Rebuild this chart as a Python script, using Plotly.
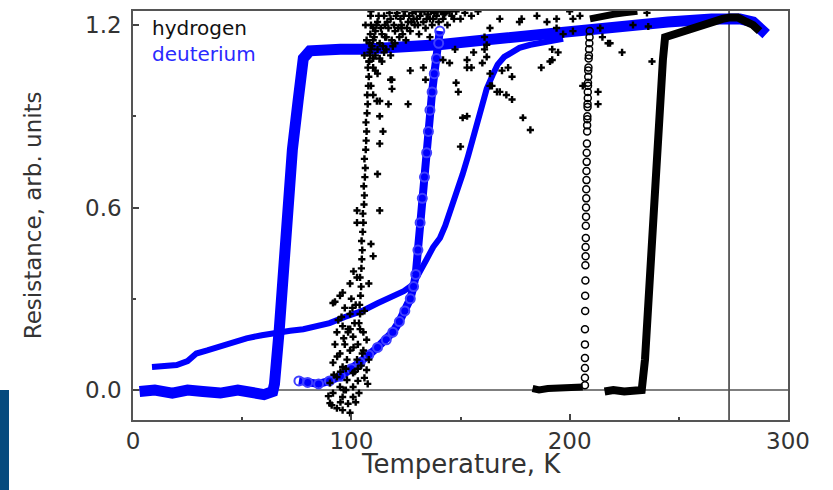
import plotly.graph_objects as go

# ---------------- data ----------------
# deuterium, run A (thick band, sharp transition ~66 K)
dA_T = [3, 10, 18, 25, 32, 40, 48, 55, 60, 64, 64.8, 67, 69, 70.7, 73, 75.6, 78, 81, 87, 95,
        105, 120, 140, 160, 180, 196, 220, 245, 265, 278, 284, 288, 290]
dA_R = [-0.005, 0.0, -0.01, 0.0, -0.005, -0.01, 0.0, -0.01, -0.015, -0.005, 0.02, 0.2, 0.42, 0.62, 0.79, 0.95, 1.09, 1.115, 1.12, 1.12,
        1.12, 1.125, 1.135, 1.15, 1.165, 1.18, 1.195, 1.21, 1.22, 1.22, 1.21, 1.19, 1.17]

# deuterium, run B (thin curve)
dB_T = [8.7, 14, 20, 25, 29, 34, 38.5, 45, 52, 59, 66, 72, 78, 84, 90, 97, 105, 112, 119, 124,
        128, 131, 134.5, 137.5, 140.6, 143, 145, 147, 149, 151, 153.5, 156, 159, 162, 165, 167, 170, 173, 177, 182,
        190, 197]
dB_R = [0.076, 0.078, 0.082, 0.095, 0.12, 0.13, 0.14, 0.155, 0.17, 0.18, 0.19, 0.195, 0.20, 0.21, 0.22, 0.24, 0.26, 0.285, 0.31, 0.325,
        0.345, 0.38, 0.43, 0.47, 0.50, 0.54, 0.58, 0.62, 0.66, 0.71, 0.77, 0.84, 0.92, 0.99, 1.04, 1.07, 1.095, 1.11, 1.125, 1.135,
        1.145, 1.155]

# deuterium, run C (open circles)
dC_T = [76, 80, 85, 90, 95, 100, 104, 108, 112, 116, 119, 122, 124.5, 127, 128.5, 129.5, 130.5, 131.5, 132.5, 133.5,
        134.5, 135.3, 136, 137, 138, 139, 140, 140.5]
dC_R = [0.03, 0.025, 0.02, 0.03, 0.045, 0.07, 0.09, 0.115, 0.14, 0.165, 0.19, 0.225, 0.26, 0.30, 0.34, 0.38, 0.46, 0.55, 0.63, 0.70,
        0.78, 0.85, 0.92, 0.98, 1.04, 1.09, 1.14, 1.18]

# hydrogen, open-circle run (transition ~207 K)
hO_flat_T = [183, 186, 190, 195, 200, 204, 206]
hO_flat_R = [0.005, 0.0, 0.005, 0.005, 0.007, 0.008, 0.01]
hO_col_T = [207, 207, 207, 207, 207, 207, 207.1, 207.1, 207.2, 207.2, 207.3, 207.3, 207.4, 207.4, 207.5, 207.5,
            207.6, 207.6, 207.7, 207.7, 207.8, 207.8, 207.9, 208, 208, 208.1, 208.1, 208.2, 208.2, 208.3, 208.3,
            208.4, 208.4, 208.5, 208.5, 208.6, 208.7, 208.8, 208.9, 209, 209.1, 209.2]
hO_col_R = [0.016, 0.04, 0.072, 0.105, 0.15, 0.20, 0.26, 0.31, 0.36, 0.41, 0.44, 0.47, 0.50, 0.54, 0.57, 0.60,
            0.63, 0.66, 0.69, 0.72, 0.75, 0.78, 0.81, 0.85, 0.87, 0.89, 0.90, 0.93, 0.94, 0.96, 0.98,
            1.0, 1.01, 1.03, 1.05, 1.06, 1.09, 1.10, 1.12, 1.14, 1.16, 1.18]
hO_top_T = [209.3, 215, 220, 225, 231]
hO_top_R = [1.22, 1.23, 1.235, 1.24, 1.245]

# hydrogen, thick run (transition ~235 K)
hT_T = [216, 220, 225, 230, 233, 234.5, 235.5, 237.7, 239, 240.5, 242.7, 243.7, 250, 257, 264, 270, 273.5, 277, 281, 284, 287]
hT_R = [-0.005, 0.0, -0.005, 0.0, 0.0, 0.1, 0.23, 0.46, 0.625, 0.855, 1.085, 1.16, 1.175, 1.19, 1.21, 1.22, 1.225, 1.225, 1.21, 1.2, 1.18]

# hydrogen, noisy run (crosses)
hX_T = [103.5, 104, 103.8, 104.2, 104.5, 104, 104.6, 104.8, 105, 104.7, 105.2, 105.5, 105.3, 105.8, 106, 105.7, 106.2, 106.4,
        106, 106.6, 106.8, 107, 106.7, 107.2, 107.5, 107.3, 107.8, 108, 107.6, 108.2, 108.5, 108.3, 108.7, 109, 108.8, 109,
        102.6, 113, 102.6, 101, 96, 92.5, 112, 113, 114.5, 117, 118, 113, 111.7, 108, 109, 110,
        91.6, 94.8, 99.4, 102.6, 99.4, 96, 93.4, 100.8, 104, 107, 105.5, 99.4, 94.8, 91.6, 96, 102.6, 107, 100.8, 93.4, 98,
        90.2, 94.8, 100.8, 91.6, 96, 90.2, 93.4, 96, 100.8, 99.4,
        97, 98.5, 101.5, 103, 104.5, 106, 103, 97.5, 95, 92, 98, 102, 100, 97, 94, 106, 103.5, 105, 101, 96.5, 92.5, 89.5,
        91, 95, 98.5, 102, 108, 107.5,
        109, 110, 111, 112, 113, 114, 115, 116, 117, 118, 119, 120, 121, 122, 123, 124, 125, 126, 127, 128, 129, 130, 131,
        132, 133, 134, 135, 136, 137, 138, 139, 140, 141, 142, 143, 144, 146, 148, 150, 152, 155, 158,
        108, 110, 111, 113, 115, 112, 109, 110,
        110, 115.4, 123, 127, 126, 118.6, 118.6, 113, 133, 134, 136, 142, 145, 148, 149, 151, 153, 150, 156, 160, 162, 163.5,
        166.7, 168, 169, 173.6, 173.6, 178.6, 182, 178, 185, 194, 200, 192, 194.7, 191, 187, 192, 177, 168, 161, 163.5,
        147.5, 153, 153, 155, 161, 162, 163.5, 164.4, 171, 171.8, 197, 201.5, 194, 189.6, 201.5, 204.7, 206, 213, 213,
        217.6, 224, 237.7, 214, 229, 235.4, 218.5, 215, 236,
        108.5, 109.5, 110.5, 111.5, 112.5, 113.5, 114.5, 115.5, 116.5, 117.5, 118.5, 119.5, 120.5, 121.5, 122.5, 123.5,
        124.5, 125.5, 126.5, 127.5, 128.5, 129.5, 130.5, 131.5, 133.5, 134.5, 136.5, 137.5, 139.5, 142.5, 145, 147,
        110, 111, 112, 114, 116, 118, 120, 106, 107, 106.5,
        95.5, 97.5, 99.5, 101.5, 93.5, 105.5, 103, 98.5, 96.5, 100.5]
hX_R = [0.22, 0.25, 0.28, 0.31, 0.34, 0.37, 0.40, 0.43, 0.46, 0.49, 0.52, 0.55, 0.58, 0.61, 0.64, 0.67, 0.70, 0.73,
        0.76, 0.79, 0.82, 0.85, 0.88, 0.91, 0.94, 0.97, 1.0, 1.03, 1.06, 1.08, 1.11, 1.14, 1.17, 1.2, 1.23, 1.245,
        0.59, 0.59, 0.55, 0.39, 0.32, 0.29, 0.71, 0.81, 0.85, 0.94, 1.02, 0.9, 0.95, 0.35, 0.48, 0.44,
        0.286, 0.31, 0.35, 0.37, 0.25, 0.21, 0.19, 0.175, 0.2, 0.165, 0.13, 0.13, 0.12, 0.09, 0.076, 0.1, 0.066, 0.056, 0.043, 0.033,
        0.023, 0.01, 0.01, -0.01, -0.023, -0.043, -0.06, -0.066, -0.023, -0.075,
        0.15, 0.19, 0.22, 0.15, 0.08, 0.04, 0.03, 0.0, 0.06, 0.05, 0.1, 0.28, 0.3, 0.27, 0.23, 0.26, -0.01, 0.12, 0.14, 0.17, 0.15, -0.02,
        -0.05, -0.04, -0.045, -0.04, 0.1, 0.02,
        1.12, 1.15, 1.18, 1.21, 1.14, 1.17, 1.23, 1.16, 1.19, 1.22, 1.13, 1.18, 1.24, 1.16, 1.2, 1.23, 1.15, 1.21, 1.18, 1.24, 1.2, 1.22, 1.17,
        1.245, 1.21, 1.19, 1.235, 1.22, 1.2, 1.24, 1.23, 1.21, 1.245, 1.22, 1.24, 1.2, 1.23, 1.245, 1.22, 1.24, 1.23, 1.245,
        1.08, 1.06, 1.1, 1.09, 1.11, 1.04, 1.0, 0.97,
        1.19, 1.2, 1.19, 1.05, 0.94, 0.99, 1.02, 0.95, 1.06, 1.02, 1.16, 1.085, 1.075, 1.01, 0.98, 0.895, 0.9, 0.8, 1.11, 1.075, 1.135, 1.0,
        0.98, 0.98, 1.05, 1.03, 0.955, 0.895, 0.855, 1.22, 1.23, 1.22, 1.245, 1.12, 1.11, 1.08, 1.06, 1.085, 1.21, 1.22, 1.16, 1.19,
        1.12, 1.085, 1.06, 1.06, 1.12, 1.095, 1.04, 1.0, 0.97, 1.06, 1.17, 1.18, 1.19, 1.21, 1.22, 1.23, 1.0, 0.98, 0.94,
        1.14, 1.11, 1.08, 1.19, 1.2, 1.24, 1.14, 1.16, 1.195,
        1.1, 1.13, 1.16, 1.2, 1.23, 1.19, 1.13, 1.16, 1.21, 1.24, 1.15, 1.2, 1.23, 1.19, 1.22, 1.17,
        1.245, 1.19, 1.23, 1.21, 1.22, 1.245, 1.2, 1.23, 1.245, 1.22, 1.245, 1.22, 1.245, 1.235, 1.245, 1.22,
        1.09, 1.05, 1.12, 1.08, 1.12, 1.1, 1.14, 1.1, 1.15, 1.2,
        0.24, 0.07, 0.2, 0.06, 0.11, 0.19, 0.07, 0.2, 0.0, 0.27]

x_ticks = [0, 100, 200, 300]
x_minor = [50, 150, 250]
y_ticks = [0.0, 0.6, 1.2]
y_ticktext = ["0.0", "0.6", "1.2"]
y_minor = [0.3, 0.9]
marker_T = 273
x_range = [0, 300]
y_range = [-0.0986, 1.246]

BLUE = "#0000ff"
BLACK = "#000000"

fig = go.Figure()

fig.add_trace(go.Scatter(x=dA_T, y=dA_R, mode="lines",
                         line=dict(color=BLUE, width=11), showlegend=False))
fig.add_trace(go.Scatter(x=dB_T, y=dB_R, mode="lines",
                         line=dict(color=BLUE, width=6), showlegend=False))
fig.add_trace(go.Scatter(x=dC_T, y=dC_R, mode="lines+markers",
                         line=dict(color=BLUE, width=8),
                         marker=dict(symbol="circle-open", size=9, color="#4040ff", line=dict(width=2)),
                         showlegend=False))
fig.add_trace(go.Scatter(x=hX_T, y=hX_R, mode="markers",
                         marker=dict(symbol="cross", size=6, color=BLACK, line=dict(width=0)),
                         showlegend=False))
fig.add_trace(go.Scatter(x=hO_flat_T, y=hO_flat_R, mode="lines",
                         line=dict(color=BLACK, width=7), showlegend=False))
fig.add_trace(go.Scatter(x=hO_top_T, y=hO_top_R, mode="lines",
                         line=dict(color=BLACK, width=7), showlegend=False))
fig.add_trace(go.Scatter(x=hO_col_T, y=hO_col_R, mode="markers",
                         marker=dict(symbol="circle-open", size=7, color=BLACK, line=dict(width=1.5)),
                         showlegend=False))
fig.add_trace(go.Scatter(x=hT_T, y=hT_R, mode="lines",
                         line=dict(color=BLACK, width=8), showlegend=False))

# reference lines
fig.add_shape(type="line", xref="x", yref="y", x0=x_range[0], x1=x_range[1], y0=0, y1=0,
              line=dict(color="#555555", width=1.5), layer="below")
fig.add_shape(type="line", xref="x", yref="paper", x0=marker_T, x1=marker_T, y0=0, y1=1,
              line=dict(color="#333333", width=1.5), layer="below")

# decorative bar at the left edge
fig.add_shape(type="rect", xref="paper", yref="paper", x0=-0.2031, x1=-0.1893, y0=-0.171, y1=0.0733,
              line=dict(width=0), fillcolor="#064a7e")

FONT = "DejaVu Sans"
fig.add_annotation(xref="paper", yref="paper", x=0.026, y=0.958, xanchor="left", yanchor="middle",
                   text="hydrogen", showarrow=False, font=dict(family=FONT, size=20, color="#111111"))
fig.add_annotation(xref="paper", yref="paper", x=0.026, y=0.895, xanchor="left", yanchor="middle",
                   text="deuterium", showarrow=False, font=dict(family=FONT, size=20, color="#2a2aff"))

# axis titles
fig.add_annotation(xref="paper", yref="paper", x=0.5, y=-0.108, xanchor="center", yanchor="middle",
                   text="Temperature, K", showarrow=False, font=dict(family=FONT, size=26, color="#333333"))
fig.add_annotation(xref="paper", yref="paper", x=-0.153, y=0.5, xanchor="center", yanchor="middle",
                   textangle=-90, text="Resistance, arb. units", showarrow=False,
                   font=dict(family=FONT, size=23, color="#333333"))

axis_common = dict(showgrid=False, zeroline=False, showline=True, linecolor="#555555", linewidth=1.5,
                   mirror=True, ticks="inside", ticklen=6, tickwidth=1.5, tickcolor="#444444",
                   automargin=False,
                   tickfont=dict(family=FONT, size=23, color="#333333"))

fig.update_layout(
    width=833, height=490,
    margin=dict(l=133, r=45, t=11, b=70),
    paper_bgcolor="white", plot_bgcolor="white",
    xaxis=dict(range=x_range, tickvals=x_ticks, ticklabelstandoff=0,
               minor=dict(tickvals=x_minor, ticks="inside", ticklen=3, tickcolor="#444444"),
               **axis_common),
    yaxis=dict(range=y_range, tickvals=y_ticks, ticktext=y_ticktext, ticklabelstandoff=5,
               minor=dict(tickvals=y_minor, ticks="inside", ticklen=3, tickcolor="#444444"),
               **axis_common),
)

fig.write_html("out.html", config={"displayModeBar": False},
               post_script="document.body.style.margin='0';document.body.style.overflow='hidden';")
